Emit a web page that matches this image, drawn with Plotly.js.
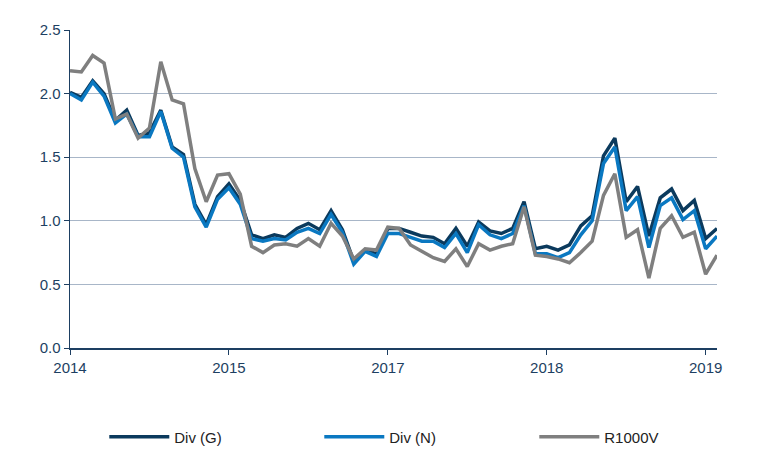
<!DOCTYPE html>
<html>
<head>
<meta charset="utf-8">
<script src="https://cdn.plot.ly/plotly-3.0.1.min.js"></script>
<style>html,body{margin:0;padding:0;background:#fff;}#chart{width:765px;height:474px;}</style>
</head>
<body>
<div id="chart"></div>
<script>
// Observation index (58 points); tick labels as shown on the original chart
var tickIndex = [0, 14, 28, 42, 56];
var tickLabels = ["2014", "2015", "2017", "2018", "2019"];

var divG = [2.01,1.97,2.10,2.00,1.79,1.87,1.67,1.69,1.87,1.58,1.52,1.13,0.97,1.19,1.29,1.16,0.89,0.86,0.89,0.87,
            0.94,0.98,0.93,1.08,0.93,0.68,0.77,0.74,0.94,0.94,0.91,0.88,0.87,0.82,0.94,0.80,0.99,0.92,0.90,0.94,
            1.15,0.78,0.80,0.77,0.81,0.96,1.04,1.51,1.65,1.15,1.27,0.88,1.18,1.25,1.08,1.16,0.86,0.94];
var divN = [2.00,1.95,2.09,1.98,1.77,1.84,1.66,1.66,1.86,1.57,1.50,1.11,0.95,1.17,1.26,1.13,0.86,0.84,0.86,0.85,
            0.91,0.94,0.90,1.05,0.91,0.66,0.76,0.72,0.90,0.90,0.87,0.84,0.84,0.79,0.90,0.75,0.97,0.89,0.86,0.90,
            1.12,0.74,0.74,0.71,0.75,0.89,1.00,1.45,1.58,1.08,1.19,0.79,1.12,1.18,1.01,1.08,0.78,0.88];
var r1000v = [2.18,2.17,2.30,2.24,1.80,1.84,1.65,1.73,2.25,1.95,1.92,1.41,1.15,1.36,1.37,1.21,0.80,0.75,0.81,0.82,
              0.80,0.86,0.80,0.98,0.88,0.70,0.78,0.77,0.95,0.94,0.81,0.76,0.71,0.68,0.78,0.64,0.82,0.77,0.80,0.82,
              1.11,0.73,0.72,0.70,0.67,0.75,0.84,1.20,1.37,0.87,0.93,0.55,0.94,1.04,0.87,0.91,0.58,0.73];

var idx = divG.map(function(_, i){ return i; });

var traces = [
  {x: idx, y: divG, type: 'scatter', mode: 'lines', name: 'Div (G)', legendwidth: 140,
   line: {color: '#0b3a5d', width: 3.5}},
  {x: idx, y: divN, type: 'scatter', mode: 'lines', name: 'Div (N)', legendwidth: 140,
   line: {color: '#0a78c1', width: 3.5}},
  {x: idx, y: r1000v, type: 'scatter', mode: 'lines', name: 'R1000V', legendwidth: 70,
   line: {color: '#7f7f7f', width: 3.5}}
];

var axisColor = '#1d3f62';
var layout = {
  width: 765, height: 474,
  margin: {l: 70, r: 48, t: 30, b: 126},
  paper_bgcolor: '#ffffff', plot_bgcolor: '#ffffff',
  font: {family: 'Liberation Sans, Arial, sans-serif', size: 15, color: axisColor},
  showlegend: true,
  legend: {orientation: 'h', x: 0.053, xanchor: 'left', y: -0.28, yanchor: 'middle',
           itemwidth: 60, entrywidthmode: 'pixels',
           font: {size: 15, color: '#222222'}, bgcolor: 'rgba(0,0,0,0)'},
  xaxis: {
    range: [0, 57], tickmode: 'array', tickvals: tickIndex, ticktext: tickLabels,
    showgrid: false, zeroline: false, showline: true, linecolor: axisColor, linewidth: 1.5,
    ticks: 'outside', ticklen: 5, tickcolor: axisColor, tickwidth: 1,
    tickfont: {size: 15, color: axisColor}, fixedrange: true
  },
  yaxis: {
    range: [0, 2.5], tickmode: 'linear', tick0: 0, dtick: 0.5, tickformat: '.1f',
    showgrid: true, gridcolor: '#a8b6c8', gridwidth: 1, zeroline: false,
    showline: true, linecolor: axisColor, linewidth: 1.5,
    ticks: 'outside', ticklen: 5, tickcolor: axisColor,
    tickfont: {size: 15, color: axisColor}, fixedrange: true
  }
};

Plotly.newPlot('chart', traces, layout, {displayModeBar: false, staticPlot: true});
</script>
</body>
</html>
